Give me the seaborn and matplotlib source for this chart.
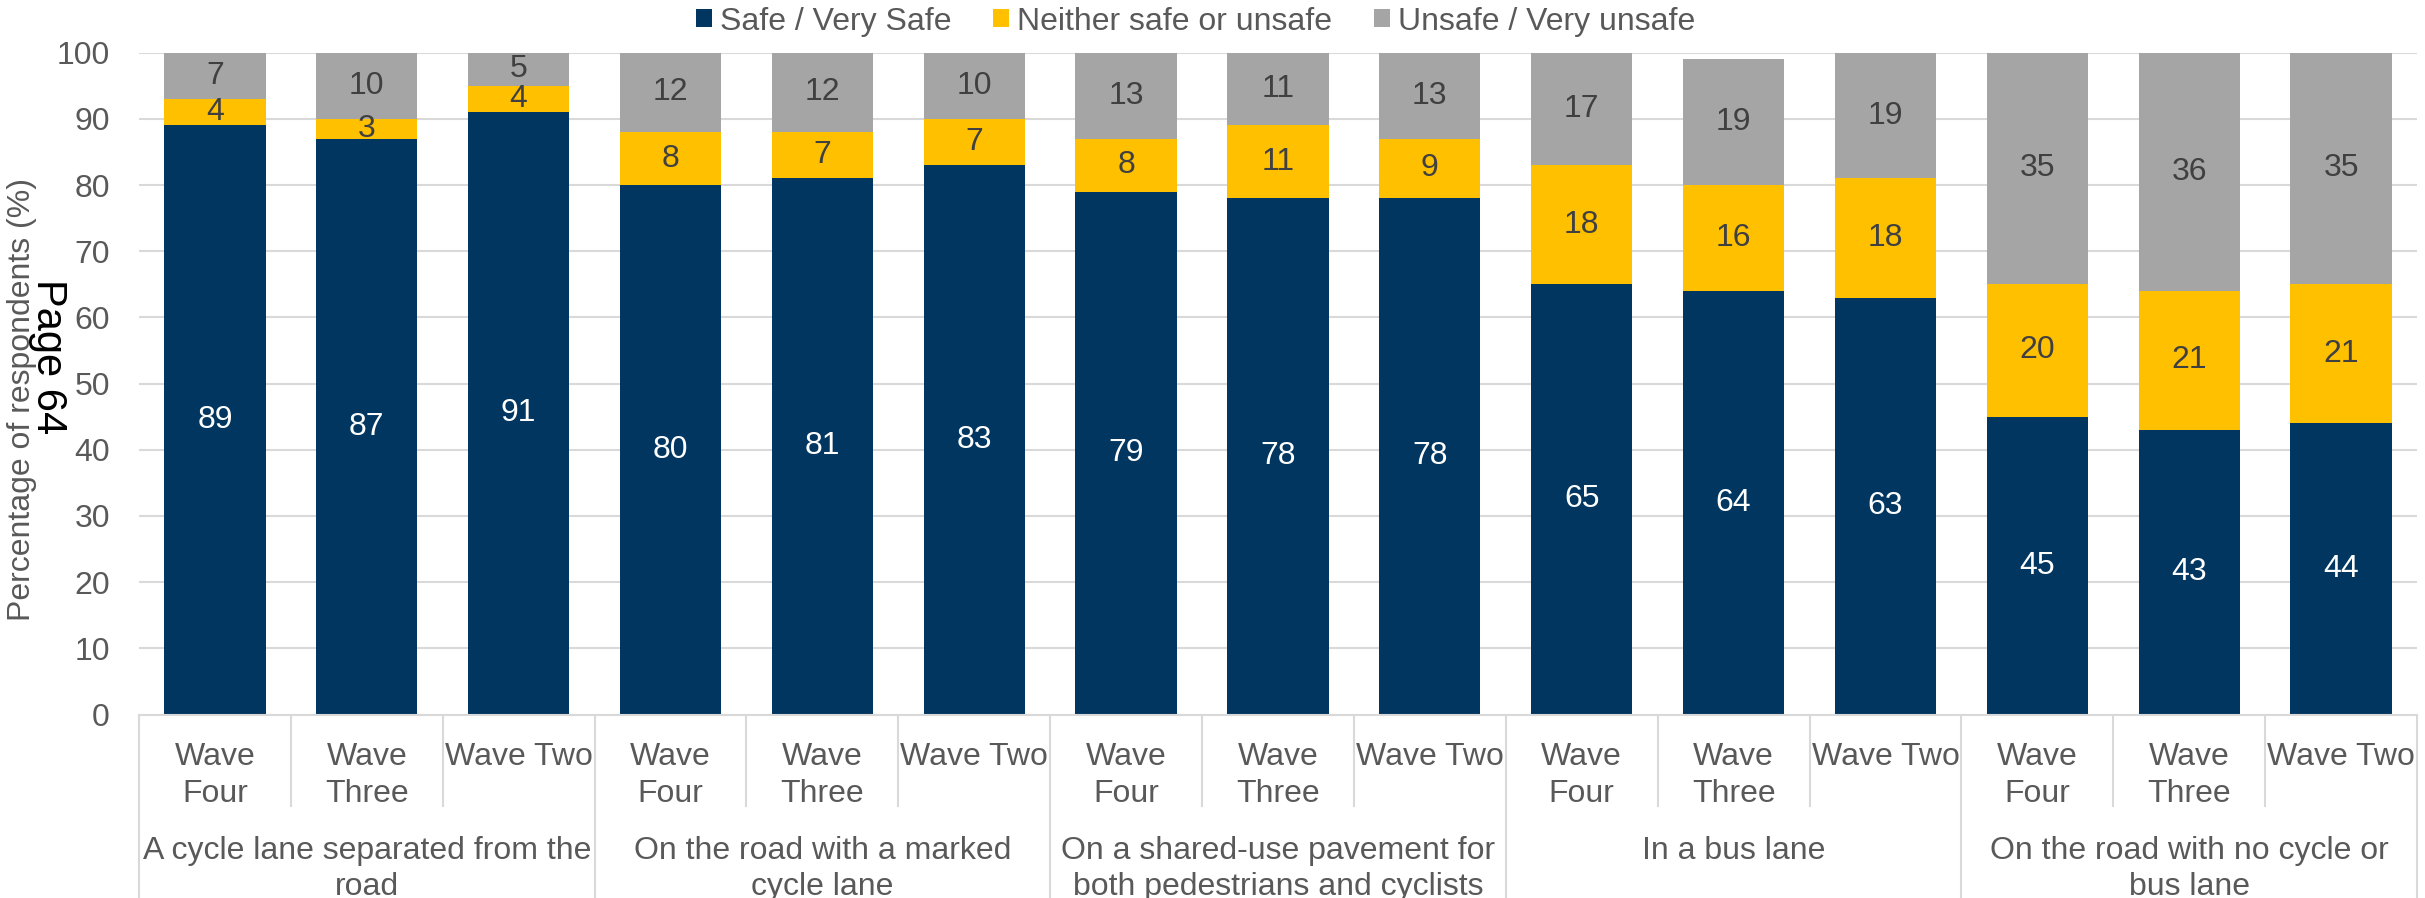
import matplotlib
matplotlib.use("Agg")
import matplotlib.pyplot as plt
from matplotlib.patches import Patch
from matplotlib.transforms import blended_transform_factory
import numpy as np
import pandas as pd
import seaborn as sns

# ---- data -------------------------------------------------------------
groups = [
    "A cycle lane separated from the\nroad",
    "On the road with a marked\ncycle lane",
    "On a shared-use pavement for\nboth pedestrians and cyclists",
    "In a bus lane",
    "On the road with no cycle or\nbus lane",
]
waves = ["Wave\nFour", "Wave\nThree", "Wave Two"]

safe = [89, 87, 91, 80, 81, 83, 79, 78, 78, 65, 64, 63, 45, 43, 44]
neither = [4, 3, 4, 8, 7, 7, 8, 11, 9, 18, 16, 18, 20, 21, 21]
unsafe = [7, 10, 5, 12, 12, 10, 13, 11, 13, 17, 19, 19, 35, 36, 35]

series_names = ["Safe / Very Safe", "Neither safe or unsafe", "Unsafe / Very unsafe"]
y_ticks = [0, 10, 20, 30, 40, 50, 60, 70, 80, 90, 100]

# ---- styling ----------------------------------------------------------
NAVY = "#003660"
GOLD = "#FFC000"
GREY = "#A5A5A5"
TEXT = "#595959"
LINE = "#D9D9D9"
FS = 23

sns.set_theme(style="white")
plt.rcParams["font.family"] = ["Liberation Sans", "DejaVu Sans"]

# long-form frame: one row per bar
keys = [f"{g}|{w}" for g in groups for w in waves]
df = pd.DataFrame({
    "bar": keys,
    "safe": safe,
    "neither": neither,
    "unsafe": unsafe,
})
df["top_safe"] = df["safe"]
df["top_neither"] = df["safe"] + df["neither"]
df["top_unsafe"] = df["safe"] + df["neither"] + df["unsafe"]

fig = plt.figure(figsize=(24.25, 8.98), dpi=100)
ax = fig.add_axes([0.0573, 0.2043, 0.9967 - 0.0573, 0.9414 - 0.2043])

# stacked bars drawn as overlapping cumulative totals
for col, color in [("top_unsafe", GREY), ("top_neither", GOLD), ("top_safe", NAVY)]:
    sns.barplot(data=df, x="bar", y=col, order=keys, color=color, saturation=1,
                width=0.667, linewidth=0, ax=ax, errorbar=None)

# segment value labels
for i in range(len(keys)):
    s, n, u = safe[i], neither[i], unsafe[i]
    ax.text(i, s / 2, str(s), ha="center", va="center", color="white", fontsize=FS)
    ax.text(i, s + n / 2, str(n), ha="center", va="center", color="#404040", fontsize=FS)
    ax.text(i, s + n + u / 2, str(u), ha="center", va="center", color="#404040", fontsize=FS)

ax.set_xlim(-0.5, len(keys) - 0.5)
ax.set_ylim(0, 100)
ax.set_yticks(y_ticks)
ax.yaxis.grid(True, color=LINE, linewidth=1.5)
ax.set_axisbelow(True)
for side in ["top", "right", "left"]:
    ax.spines[side].set_visible(False)
ax.spines["bottom"].set_color(LINE)
ax.spines["bottom"].set_linewidth(1.5)
ax.tick_params(axis="y", length=0, pad=21, labelsize=FS, labelcolor=TEXT)
ax.set_xticks(range(len(keys)))
ax.set_xticklabels([w for g in groups for w in waves], linespacing=1.31)
ax.tick_params(axis="x", length=0, pad=20, labelsize=FS, labelcolor=TEXT)
ax.set_xlabel("")
ax.set_ylabel("")

# two-level category axis: separators and group labels
trans = blended_transform_factory(ax.transData, ax.transAxes)
for j in range(len(keys) + 1):
    xpos = j - 0.5
    low = -0.277 if j % 3 == 0 else -0.14
    ax.plot([xpos, xpos], [0, low], transform=trans, color=LINE, lw=1.5,
            clip_on=False, solid_capstyle="butt")
for gi, g in enumerate(groups):
    ax.text(gi * 3 + 1, -0.184, g, transform=trans, ha="center", va="top",
            fontsize=FS, color=TEXT, linespacing=1.26)

fig.text(0.009, 0.5546, "Percentage of respondents (%)", rotation=90,
         ha="center", va="center", fontsize=FS, color=TEXT)
fig.text(0.0198, 0.6024, "Page 64", rotation=-90, ha="center", va="center",
         fontsize=30, color="black")

handles = [Patch(facecolor=c, edgecolor="none") for c in (NAVY, GOLD, GREY)]
fig.legend(handles, series_names, loc="center", bbox_to_anchor=(0.493, 0.976),
           ncol=3, frameon=False, fontsize=FS, handlelength=0.5, handleheight=0.5,
           handletextpad=0.25, columnspacing=1.3, labelcolor=TEXT)

fig.savefig("out.png", dpi=100)
